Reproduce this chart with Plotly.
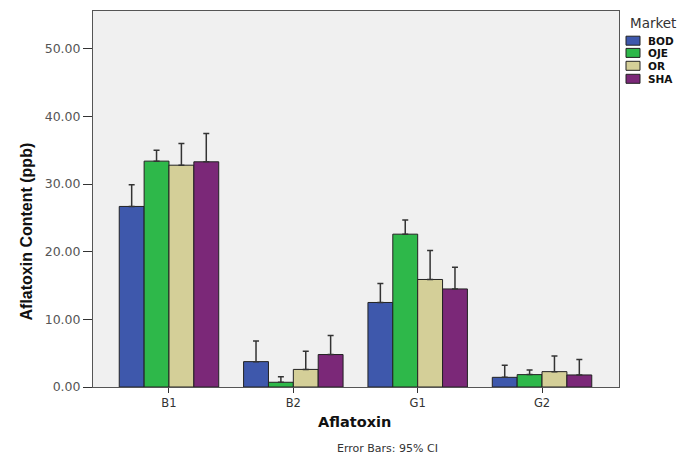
import plotly.graph_objects as go

categories = ["B1", "B2", "G1", "G2"]
markets = ["BOD", "OJE", "OR", "SHA"]
means = {
    "BOD": [26.7, 3.75, 12.5, 1.43],
    "OJE": [33.4, 0.7, 22.6, 1.83],
    "OR":  [32.8, 2.6, 15.9, 2.27],
    "SHA": [33.3, 4.8, 14.5, 1.78],
}
upper_ci = {
    "BOD": [29.9, 6.8, 15.3, 3.2],
    "OJE": [35.0, 1.5, 24.7, 2.5],
    "OR":  [36.0, 5.3, 20.2, 4.6],
    "SHA": [37.5, 7.6, 17.7, 4.05],
}
colors = {"BOD": "#3E58AC", "OJE": "#2EB84A", "OR": "#D4CF98", "SHA": "#7B2878"}
y_ticks = [0, 10, 20, 30, 40, 50]

fig = go.Figure()
for m in markets:
    err = [u - v for u, v in zip(upper_ci[m], means[m])]
    fig.add_trace(go.Bar(
        x=categories, y=means[m], name=m, showlegend=False,
        marker=dict(color=colors[m], line=dict(color="#222222", width=1)),
        error_y=dict(type="data", symmetric=False, array=err,
                     arrayminus=[0] * len(err), color="#333333",
                     thickness=1.5, width=3),
    ))

# page body has an 8px margin; plot area spans screen x 93..619, y 11..387
def px(sx):
    return (sx - 93) / 526

def py(sy):
    return (387 - sy) / 376

annotations = [
    dict(text="<b>Aflatoxin Content (ppb)</b>", x=px(26), y=py(231.5), textangle=-90,
         font=dict(size=16, color="#111111", family="Liberation Sans, Arial")),
    dict(text="<b>Aflatoxin</b>", x=px(354), y=py(421.5),
         font=dict(size=14.5, color="#111111", family="DejaVu Sans")),
    dict(text="Error Bars: 95% CI", x=px(387), y=py(448.5),
         font=dict(size=11, color="#333333", family="DejaVu Sans")),
    dict(text="Market", x=px(628), y=py(22.7), xanchor="left",
         font=dict(size=13.5, color="#333333", family="DejaVu Sans")),
]
shapes = []
legend_y = [40.7, 52.9, 65.8, 78.8]
for m, ly in zip(markets, legend_y):
    shapes.append(dict(type="rect", xref="paper", yref="paper",
                       x0=px(626), x1=px(640), y0=py(ly + 4.5), y1=py(ly - 4.5),
                       fillcolor=colors[m], line=dict(color="#222222", width=1)))
    annotations.append(dict(text="<b>%s</b>" % m, x=px(646), y=py(ly), xanchor="left",
                            font=dict(size=10.5, color="#111111", family="DejaVu Sans")))
for a in annotations:
    a.update(xref="paper", yref="paper", showarrow=False)
    a.setdefault("xanchor", "center")
    a.setdefault("yanchor", "middle")

fig.update_layout(
    width=687, height=449,
    barmode="group", bargap=0.2, bargroupgap=0,
    paper_bgcolor="white", plot_bgcolor="#F0F0F0",
    margin=dict(l=85, r=76, t=3, b=70, autoexpand=False),
    font=dict(family="DejaVu Sans, Arial, sans-serif", color="#333333"),
    showlegend=False,
    annotations=annotations, shapes=shapes,
)
fig.update_xaxes(
    range=[-0.611, 3.619], showline=True, mirror=True, linecolor="#555555",
    linewidth=1, ticks="outside", ticklen=5, tickcolor="#333333", automargin=False,
    tickfont=dict(size=11.5, color="#333333", family="DejaVu Sans"),
)
fig.update_yaxes(
    range=[0, 55.6], showline=True, mirror=True, linecolor="#555555",
    linewidth=1, ticks="outside", ticklen=9, tickcolor="#333333", automargin=False,
    tickvals=y_ticks, tickformat=".2f", showgrid=False, zeroline=False,
    tickfont=dict(size=12.5, color="#555555", family="DejaVu Sans"),
)

fig.write_html("out.html")
